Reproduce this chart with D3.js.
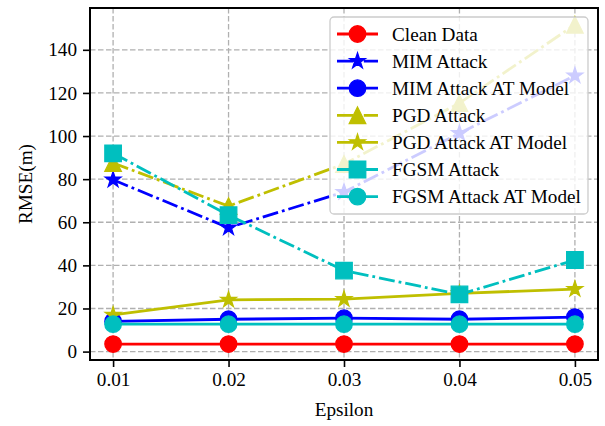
<!DOCTYPE html>
<html>
<head>
<meta charset="utf-8">
<script src="https://cdn.jsdelivr.net/npm/d3@7"></script>
<style>
  body { margin: 0; background: #fff; }
  svg { display: block; font-family: "Liberation Serif", "Times New Roman", serif; }
</style>
</head>
<body>
<div id="chart"></div>
<script>
const epsilons = [0.01, 0.02, 0.03, 0.04, 0.05];
const xTicks = ['0.01', '0.02', '0.03', '0.04', '0.05'];
const yTicks = [0, 20, 40, 60, 80, 100, 120, 140];

const cleanData = [3.5, 3.5, 3.5, 3.5, 3.5];
const mimAttack = [79.7, 57.5, 74, 101.3, 128];
const mimAtModel = [14, 15, 15.5, 15, 16];
const pgdAttack = [87.5, 67.5, 87, 115.3, 151.6];
const pgdAtModel = [17, 24, 24.3, 27, 29];
const fgsmAttack = [92, 63.3, 37.6, 26.5, 42.5];
const fgsmAtModel = [12.7, 12.7, 12.7, 12.7, 12.7];

const seriesNames = ['Clean Data', 'MIM Attack', 'MIM Attack AT Model', 'PGD Attack',
  'PGD Attack AT Model', 'FGSM Attack', 'FGSM Attack AT Model'];
const seriesValues = [cleanData, mimAttack, mimAtModel, pgdAttack, pgdAtModel, fgsmAttack, fgsmAtModel];
const seriesColors = ['#ff0000', '#0000ff', '#0000ff', '#bfbf00', '#bfbf00', '#00bfbf', '#00bfbf'];
const seriesMarkers = ['circle', 'star', 'circle', 'triangle', 'star', 'square', 'circle'];
const seriesDashed = [false, true, false, true, false, true, false];

const width = 605;
const height = 426;
const margin = { top: 8, right: 7, bottom: 66, left: 90 };
const innerWidth = width - margin.left - margin.right;
const innerHeight = height - margin.top - margin.bottom;
const fontSize = 19.2;
const fontFamily = 'Liberation Serif, Times New Roman, serif';
const ms = 16.5;

const svg = d3.select('#chart')
  .append('svg')
  .attr('width', width)
  .attr('height', height);

const x = d3.scaleLinear().domain([0.008, 0.052]).range([0, innerWidth]);
const y = d3.scaleLinear().domain([-3.9, 159.4]).range([innerHeight, 0]);

const g = svg.append('g').attr('transform', `translate(${margin.left}, ${margin.top})`);

// marker path centred on 0,0
function markerPath(type, size) {
  const r = size / 2;
  if (type === 'circle') {
    return d3.symbol(d3.symbolCircle, Math.PI * r * r)();
  }
  if (type === 'square') {
    return `M${-r},${-r}H${r}V${r}H${-r}Z`;
  }
  if (type === 'triangle') {
    return `M0,${-r}L${r},${r}L${-r},${r}Z`;
  }
  // 5 point star
  const inner = r * 0.381966;
  const pts = [];
  for (let i = 0; i < 10; i++) {
    const a = Math.PI / 2 + i * Math.PI / 5;
    const rad = i % 2 === 0 ? r : inner;
    pts.push([rad * Math.cos(a), -rad * Math.sin(a)]);
  }
  return 'M' + pts.map(p => p.join(',')).join('L') + 'Z';
}

// grid
const grid = g.append('g')
  .attr('stroke', '#b0b0b0')
  .attr('stroke-width', 1.3)
  .attr('stroke-dasharray', '5.5,2.5');

grid.selectAll('.gx')
  .data(epsilons)
  .join('line')
  .attr('x1', d => x(d))
  .attr('x2', d => x(d))
  .attr('y1', 0)
  .attr('y2', innerHeight);

grid.selectAll('.gy')
  .data(yTicks)
  .join('line')
  .attr('y1', d => y(d))
  .attr('y2', d => y(d))
  .attr('x1', 0)
  .attr('x2', innerWidth);

// series
const line = d3.line().x((d, i) => x(epsilons[i])).y(d => y(d));

seriesValues.forEach((vals, k) => {
  const sg = g.append('g');
  sg.append('path')
    .datum(vals)
    .attr('d', line)
    .attr('fill', 'none')
    .attr('stroke', seriesColors[k])
    .attr('stroke-width', 2.8)
    .attr('stroke-dasharray', seriesDashed[k] ? '16,4,2.8,4' : null);
  sg.selectAll('path.m')
    .data(vals)
    .join('path')
    .attr('class', 'm')
    .attr('transform', (d, i) => `translate(${x(epsilons[i])}, ${y(d)})`)
    .attr('d', markerPath(seriesMarkers[k], ms))
    .attr('fill', seriesColors[k])
    .attr('stroke', seriesColors[k])
    .attr('stroke-width', 1.3);
});

// axes
const xAxis = g.append('g')
  .attr('transform', `translate(0, ${innerHeight})`)
  .call(d3.axisBottom(x).tickValues(epsilons).tickFormat((d, i) => xTicks[i]).tickSize(7).tickPadding(5));

const yAxis = g.append('g')
  .call(d3.axisLeft(y).tickValues(yTicks).tickSize(7).tickPadding(6));

[xAxis, yAxis].forEach(ax => {
  ax.attr('font-family', fontFamily).attr('font-size', fontSize);
  ax.select('.domain').remove();
  ax.selectAll('line').attr('stroke', '#000').attr('stroke-width', 1.6);
  ax.selectAll('text').attr('fill', '#000');
});

g.append('rect')
  .attr('width', innerWidth)
  .attr('height', innerHeight)
  .attr('fill', 'none')
  .attr('stroke', '#000')
  .attr('stroke-width', 2);

svg.append('text')
  .attr('x', margin.left + innerWidth / 2)
  .attr('y', 416)
  .attr('text-anchor', 'middle')
  .attr('font-size', fontSize)
  .text('Epsilon');

svg.append('text')
  .attr('transform', `translate(32, ${margin.top + innerHeight / 2}) rotate(-90)`)
  .attr('text-anchor', 'middle')
  .attr('font-size', fontSize)
  .text('RMSE(m)');

// legend
const legend = svg.append('g').attr('transform', 'translate(330, 17)');
legend.append('rect')
  .attr('width', 258)
  .attr('height', 197)
  .attr('rx', 4)
  .attr('fill', '#fff')
  .attr('fill-opacity', 0.8)
  .attr('stroke', '#cccccc')
  .attr('stroke-width', 1.3);

const rowH = 27.1;
seriesNames.forEach((name, k) => {
  const ry = 17 + k * rowH;
  const row = legend.append('g').attr('transform', `translate(0, ${ry})`);
  row.append('line')
    .attr('x1', 7)
    .attr('x2', 48)
    .attr('stroke', seriesColors[k])
    .attr('stroke-width', 2.8)
    .attr('stroke-dasharray', seriesDashed[k] ? '16,4,2.8,4' : null);
  row.append('path')
    .attr('transform', 'translate(27.5, 0)')
    .attr('d', markerPath(seriesMarkers[k], ms))
    .attr('fill', seriesColors[k])
    .attr('stroke', seriesColors[k])
    .attr('stroke-width', 1.3);
  row.append('text')
    .attr('x', 62)
    .attr('y', 6.5)
    .attr('font-size', fontSize)
    .text(name);
});
</script>
</body>
</html>
